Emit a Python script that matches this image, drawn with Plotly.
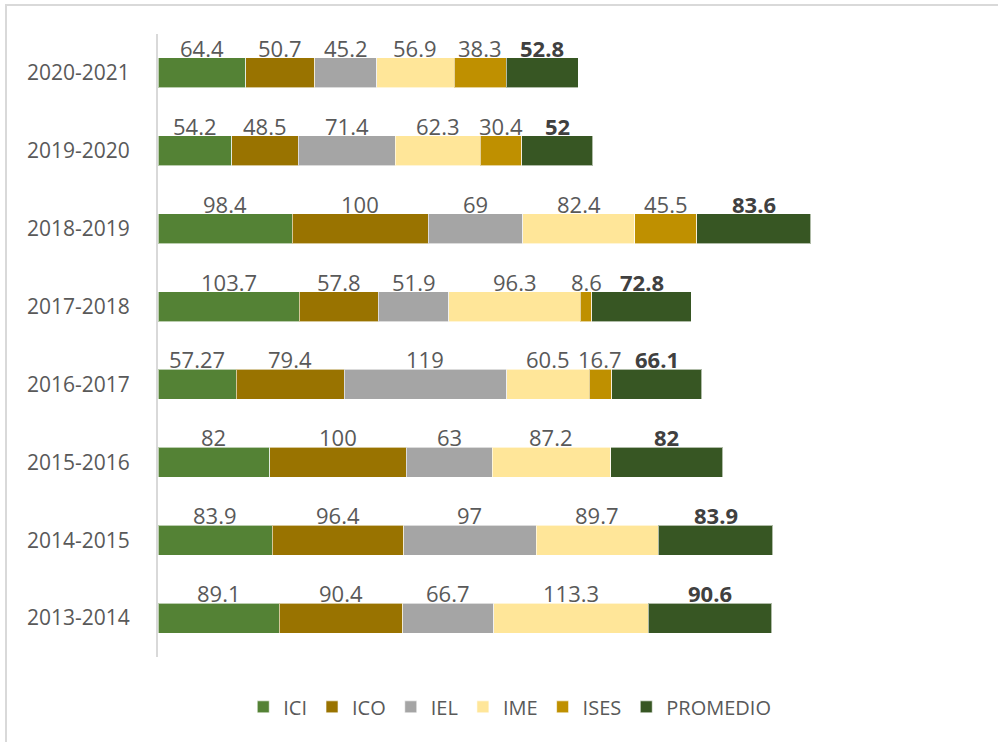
import plotly.graph_objects as go

# Academic years (bottom to top) and indicator values
years = ["2013-2014", "2014-2015", "2015-2016", "2016-2017",
         "2017-2018", "2018-2019", "2019-2020", "2020-2021"]

ici = [89.1, 83.9, 82, 57.27, 103.7, 98.4, 54.2, 64.4]
ico = [90.4, 96.4, 100, 79.4, 57.8, 100, 48.5, 50.7]
iel = [66.7, 97, 63, 119, 51.9, 69, 71.4, 45.2]
ime = [113.3, 89.7, 87.2, 60.5, 96.3, 82.4, 62.3, 56.9]
ises = [None, None, None, 16.7, 8.6, 45.5, 30.4, 38.3]
promedio = [90.6, 83.9, 82, 66.1, 72.8, 83.6, 52, 52.8]

series = [
    ("ICI", ici, "#548235"),
    ("ICO", ico, "#997300"),
    ("IEL", iel, "#A5A5A5"),
    ("IME", ime, "#FFE699"),
    ("ISES", ises, "#BF9000"),
    ("PROMEDIO", promedio, "#375623"),
]

FONT = "Open Sans"
TXT = "#595959"

fig = go.Figure()
annotations = []
base = [0.0] * len(years)
for name, vals, color in series:
    fig.add_trace(go.Bar(
        name=name, y=years, x=vals, orientation="h",
        marker=dict(color=color, line=dict(color="rgba(255,255,255,0.6)", width=1)),
        hoverinfo="x+name",
    ))
    bold = name == "PROMEDIO"
    for i, v in enumerate(vals):
        if v is None:
            continue
        annotations.append(dict(
            x=base[i] + v / 2, y=years[i], xref="x", yref="y",
            text=f"<b>{v:g}</b>" if bold else f"{v:g}",
            showarrow=False, yshift=25,
            font=dict(family=FONT, size=22, color="#404040" if bold else TXT),
        ))
        base[i] += v

# Light frame around the whole chart
fig.add_shape(type="rect", xref="paper", yref="paper",
              x0=-0.1858, x1=1.04, y0=-0.15, y1=1.0465,
              line=dict(color="#D9D9D9", width=2), fillcolor="rgba(0,0,0,0)",
              layer="below")

fig.update_layout(
    width=998, height=742,
    barmode="stack", bargap=0.615,
    margin=dict(l=158, r=22, t=34, b=85),
    paper_bgcolor="white", plot_bgcolor="white",
    font=dict(family=FONT, size=20, color=TXT),
    annotations=annotations,
    showlegend=True,
    legend=dict(orientation="h", x=0.43, xanchor="center", y=-0.08, yanchor="middle",
                font=dict(family=FONT, size=20, color=TXT), traceorder="normal",
                itemwidth=30),
    xaxis=dict(range=[0, 600], showgrid=False, zeroline=False, showticklabels=False,
               showline=False, fixedrange=True),
    yaxis=dict(categoryorder="array", categoryarray=years, range=[-0.5, 7.5],
               showgrid=False, zeroline=False, showline=True, linecolor="#D9D9D9",
               linewidth=2, ticks="", ticklabelstandoff=22,
               tickfont=dict(family=FONT, size=21, color=TXT)),
)

fig.write_html("out.html")
